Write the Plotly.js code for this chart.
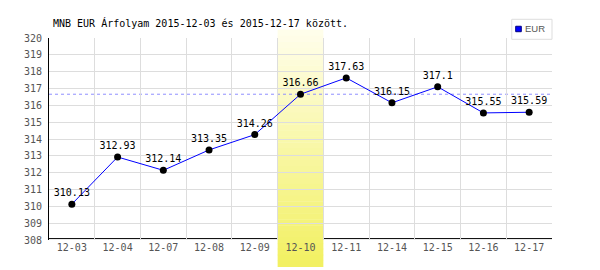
<!DOCTYPE html>
<html><head><meta charset="utf-8">
<script src="https://cdn.plot.ly/plotly-3.0.1.min.js"></script>
<style>html,body{margin:0;padding:0;background:#fff}#chart{width:600px;height:270px}</style>
</head><body><div id="chart"></div>
<script>
const titleText = 'MNB EUR Árfolyam 2015-12-03 és 2015-12-17 között.';
const seriesName = 'EUR';
const categories = ['12-03','12-04','12-07','12-08','12-09','12-10','12-11','12-14','12-15','12-16','12-17'];
const values = [310.13, 312.93, 312.14, 313.35, 314.26, 316.66, 317.63, 316.15, 317.1, 315.55, 315.59];
const highlightCategory = '12-10';
const yTickValues = [308,309,310,311,312,313,314,315,316,317,318,319,320];

const mono = 'DejaVu Sans Mono, monospace';
const hi = categories.indexOf(highlightCategory);

// gradient band (styling only)
const shapes = [];
// bottom axis line drawn under band
shapes.push({type:'line', xref:'paper', yref:'paper', x0:0, x1:1, y0:0.007, y1:0.007,
  line:{color:'#000', width:1}, layer:'between'});
const N = 40, yTop = 1.0396, yBot = -0.1337;
const cTop = [255,254,236], cBot = [242,240,96];
for (let i = 0; i < N; i++) {
  const t = (i + 0.5) / N;
  const c = cTop.map((v, k) => Math.round(v + (cBot[k] - v) * t));
  const y0 = yTop - (yTop - yBot) * i / N;
  const y1 = yTop - (yTop - yBot) * (i + 1) / N;
  shapes.push({type:'rect', xref:'x', yref:'paper', x0:hi-0.5, x1:hi+0.5, y0:y1, y1:y0+0.002,
    fillcolor:`rgb(${c[0]},${c[1]},${c[2]})`, line:{width:0}, layer:'between'});
}
// reference dashed line at highlighted value
shapes.push({type:'line', xref:'paper', yref:'y', x0:0, x1:1, y0:values[hi], y1:values[hi],
  line:{color:'#8f8fff', width:1, dash:'3px,3px'}, layer:'between'});
// legend box
shapes.push({type:'rect', xref:'paper', yref:'paper', x0:0.92, x1:1.0, y0:0.9936, y1:1.0926,
  fillcolor:'#fff', line:{color:'#dddddd', width:1}, layer:'above'});
shapes.push({type:'rect', xref:'paper', yref:'paper', x0:0.9199, x1:0.9304, y0:1.0446-0.0135, y1:1.0446+0.0135,
  fillcolor:'#0000ff', line:{color:'#000080', width:1}, layer:'above'});
shapes[shapes.length-1].x0 = (515.7-49)/503; shapes[shapes.length-1].x1 = (521.3-49)/503;

const trace = {
  type:'scatter', mode:'lines+markers+text', x:categories, y:values,
  text: values.map(String), textposition:'top center',
  textfont:{family:mono, size:10, color:'#000'},
  line:{color:'#0000ff', width:1}, marker:{color:'#000', size:7},
  name:seriesName, showlegend:false, cliponaxis:false, hoverinfo:'skip'
};

const layout = {
  width:600, height:270, margin:{l:49, r:48, t:38, b:30},
  paper_bgcolor:'#fff', plot_bgcolor:'#fff', showlegend:false,
  title:{text:titleText, xref:'container', x:53/600, xanchor:'left', yref:'container', y:1-23/270, yanchor:'middle',
    font:{family:mono, size:10, color:'#000'}},
  xaxis:{type:'category', range:[-0.5, categories.length-0.5], tickson:'boundaries', showgrid:true,
    gridcolor:'#dddddd', gridwidth:1, showline:false, zeroline:false, ticks:'', ticklen:0,
    tickfont:{family:mono, size:10, color:'#555'}, fixedrange:true},
  yaxis:{range:[308,320], tickvals:yTickValues, ticktext:yTickValues.map(String), showgrid:true, gridcolor:'#dddddd', gridwidth:1,
    showline:true, linecolor:'#000', linewidth:1, zeroline:false, ticks:'', ticklabelstandoff:4,
    tickfont:{family:mono, size:10, color:'#555'}, fixedrange:true},
  shapes:shapes,
  annotations:[{text:seriesName, xref:'paper', yref:'paper', x:(523-49)/503, y:1.0446, xanchor:'left', yanchor:'middle',
    showarrow:false, font:{family:'Liberation Sans, Arial, sans-serif', size:9.5, color:'#555'}}]
};
Plotly.newPlot('chart', [trace], layout, {staticPlot:true});
</script></body></html>
